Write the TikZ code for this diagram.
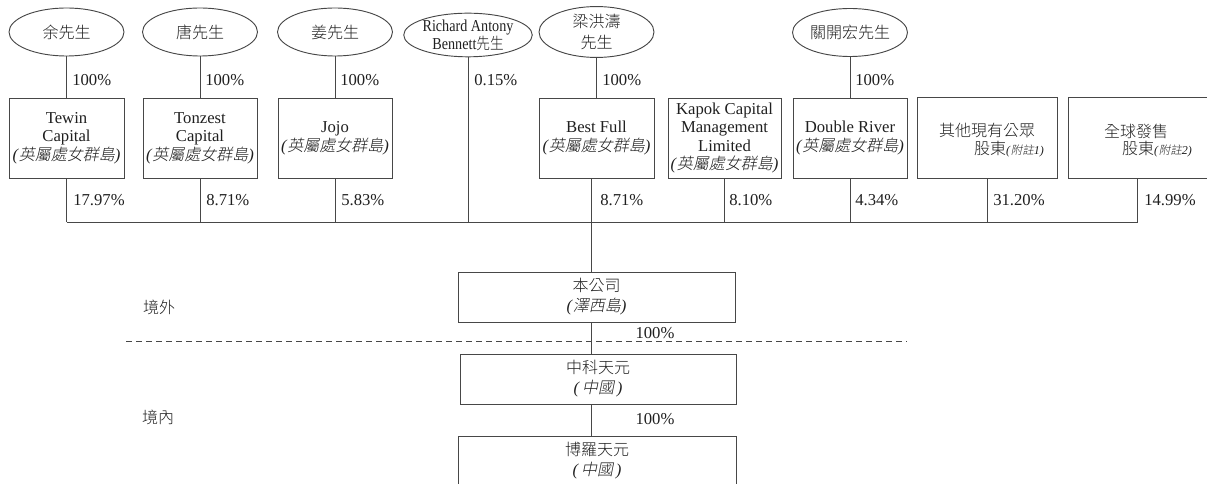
\documentclass[tikz,border=0pt]{standalone}
\usepackage{graphicx}
\usepackage{fontspec}
\setmainfont{Liberation Serif}
\newfontfamily\cjk[Scale=0.96]{Noto Sans CJK TC Light}
\newfontfamily\cjkit[Scale=0.96,FakeSlant=0.2]{Noto Sans CJK TC Light}
\usetikzlibrary{shapes.geometric,calc}
\newcommand\zh[1]{{\cjk #1}}
\newcommand\zhi[1]{{\cjkit #1}}
\newcommand\bvi{\textit{(}\zhi{英屬處女群島}\textit{)}}
\newcommand\fnote[2]{{\fontsize{9pt}{9pt}\selectfont\textit{(}\zhi{#1}\textit{#2)}}}
\colorlet{ln}{black!72}
\colorlet{tx}{black!88}
\begin{document}
\begin{tikzpicture}[x=0.75pt,y=-0.75pt,
  every node/.style={text=tx, font=\fontsize{12.5pt}{13.9pt}\selectfont},
  own/.style={draw=ln, line width=0.7pt, ellipse, minimum width=86.25pt, minimum height=36pt, inner sep=0pt, align=center},
  cobox/.style={draw=ln, line width=0.7pt, rectangle, minimum height=60pt, inner sep=0pt, align=center},
  lowbox/.style={cobox, minimum height=37.5pt, font=\fontsize{12.5pt}{15pt}\selectfont},
  pct/.style={anchor=west, inner sep=0pt},
  link/.style={draw=ln, line width=0.7pt}]
\useasboundingbox (0,0) rectangle (1207,484);

% owners
\node[own] (yu) at (66.5,32) {\zh{余先生}};
\node[own] (tang) at (200,32) {\zh{唐先生}};
\node[own] (jiang) at (335,32) {\zh{姜先生}};
\node[own, minimum width=85.5pt, minimum height=30pt, font=\fontsize{12.5pt}{13.5pt}\selectfont] (rab) at (468,35)
  {\scalebox{0.85}[1]{Richard Antony}\\\scalebox{0.85}[1]{Bennett\zh{先生}}};
\node[own, minimum height=37.5pt, font=\fontsize{12.5pt}{16pt}\selectfont] (liang) at (596.5,32) {\zh{梁洪濤}\\\zh{先生}};
\node[own] (kwan) at (850,32.5) {\zh{關開宏先生}};

% holding companies
\node[cobox, minimum width=86.25pt] (tewin) at (66.5,138) {Tewin\\Capital\\\bvi};
\node[cobox, minimum width=85.5pt] (tonzest) at (200,138) {Tonzest\\Capital\\\bvi};
\node[cobox, minimum width=85.5pt] (jojo) at (335,138) {Jojo\\\bvi};
\node[cobox, minimum width=86.25pt] (bf) at (596.5,138) {Best Full\\\bvi};
\node[cobox, minimum width=84.75pt] (kapok) at (724.5,138) {Kapok Capital\\Management\\Limited\\\bvi};
\node[cobox, minimum width=85.5pt] (dr) at (850,138) {Double River\\\bvi};
\node[cobox, minimum width=105pt, minimum height=60.75pt] (pub) at (987,137.5) {};
\node (pub1) at (987,131) {\zh{其他現有公眾}};
\node (pub2) at (1009,149) {\zh{股東}\fnote{附註}{1}};
\node[cobox, minimum width=104.25pt, minimum height=60.75pt] (glob) at (1137.5,137.5) {};
\node (glob1) at (1136,131) {\zh{全球發售}};
\node (glob2) at (1157,149) {\zh{股東}\fnote{附註}{2}};

% lower companies
\node[lowbox, minimum width=207.75pt] (cmp) at (596.5,297) {\zh{本公司}\\\textit{(}\zhi{澤西島}\textit{)}};
\node[lowbox, minimum width=207pt] (zk) at (598,379) {\zh{中科天元}\\\textit{(\,}\zhi{中國}\textit{\,)}};
\node[lowbox, minimum width=208.5pt] (bl) at (597,461) {\zh{博羅天元}\\\textit{(\,}\zhi{中國}\textit{\,)}};

% connectors owner -> company
\foreach \a/\b in {yu/tewin, tang/tonzest, jiang/jojo, liang/bf, kwan/dr}
  \draw[link] (\a.south) -- (\b.north);

% bus
\coordinate (bus) at (0,222);
\foreach \n in {tewin, tonzest, jojo, kapok, dr, pub, glob}
  \draw[link] (\n.south) -- (\n.south |- bus);
\draw[link] (rab.south) -- (rab.south |- bus);
\draw[link] (tewin.south |- bus) -- (glob.south |- bus);

% spine
\coordinate (spine) at ([xshift=-4.1pt]bf.south);
\draw[link] (spine) -- (spine |- cmp.north);
\draw[link] (spine |- cmp.south) -- (spine |- zk.north);
\draw[link] (spine |- zk.south) -- (spine |- bl.north);

% percentages
\node[pct] (p1) at (72,80) {100\%};
\node[pct] (p2) at (205,80) {100\%};
\node[pct] (p3) at (340,80) {100\%};
\node[pct] (p4) at (474,80) {0.15\%};
\node[pct] (p5) at (602,80) {100\%};
\node[pct] (p6) at (855,80) {100\%};
\node[pct] (q1) at (73,200) {17.97\%};
\node[pct] (q2) at (206,200) {8.71\%};
\node[pct] (q3) at (341,200) {5.83\%};
\node[pct] (q4) at (600,200) {8.71\%};
\node[pct] (q5) at (729,200) {8.10\%};
\node[pct] (q6) at (855,200) {4.34\%};
\node[pct] (q7) at (993,200) {31.20\%};
\node[pct] (q8) at (1144,200) {14.99\%};
\node (r1) at (655,333) {100\%};
\node (r2) at (655,419) {100\%};

% boundary
\coordinate (dl) at (126,341);
\coordinate (dr2) at (907,341);
\draw[link, dash pattern=on 4.5pt off 3pt] (dl) -- (dr2);
\node (jw) at (159,307) {\zh{境外}};
\node (jn) at (158,417) {\zh{境內}};
\end{tikzpicture}
\end{document}
